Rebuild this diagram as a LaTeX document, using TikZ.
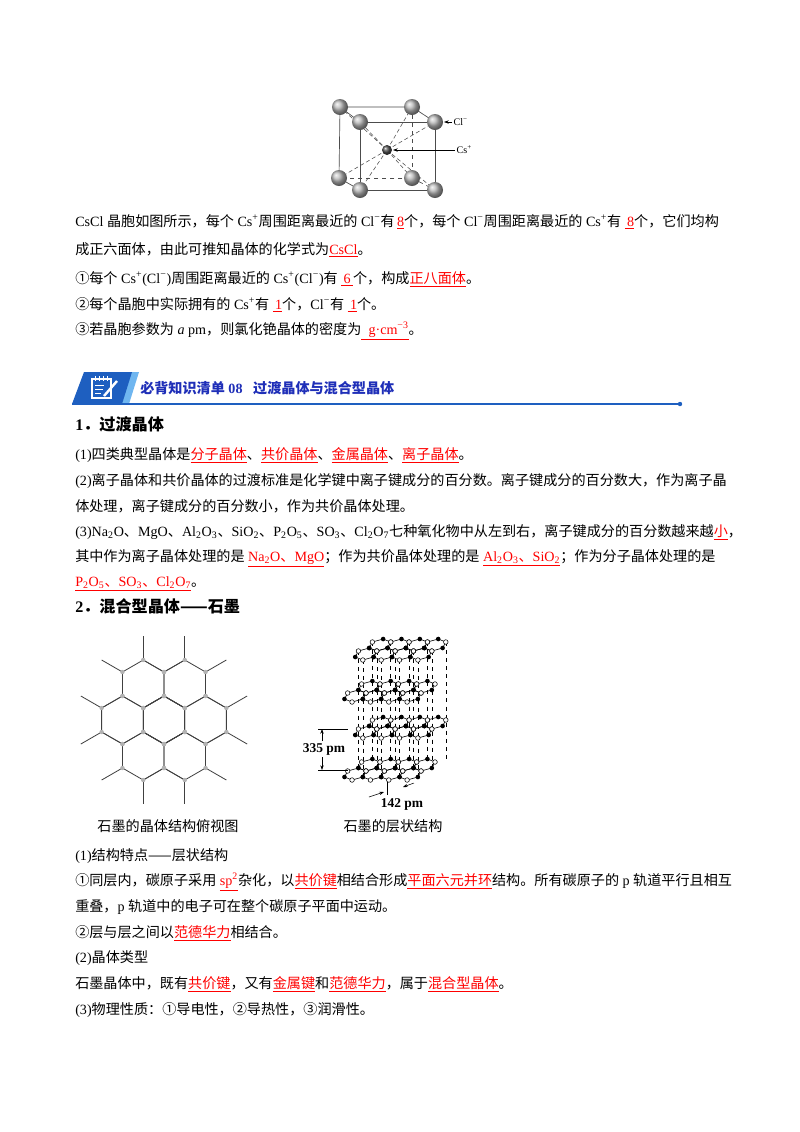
\documentclass[tikz,border=0pt]{standalone}
\usepackage{fontspec}
\setmainfont{Liberation Serif}
\newfontfamily\cjkfont{Noto Sans CJK SC}
\usetikzlibrary{arrows.meta}
\XeTeXinterchartokenstate=1
\newXeTeXintercharclass\CJKc
\newcount\cc
\def\setrange#1#2{\cc=#1\relax\loop\XeTeXcharclass\cc=\CJKc\ifnum\cc<#2\advance\cc by 1\repeat}
\setrange{"4E00}{"9FFF}
\setrange{"3000}{"303F}
\setrange{"FF00}{"FFEF}
\setrange{"2460}{"2473}
\XeTeXcharclass"2014=\CJKc
\XeTeXinterchartoks 0 \CJKc = {\cjkfont}
\XeTeXinterchartoks 4095 \CJKc = {\cjkfont}
\XeTeXinterchartoks \CJKc 0 = {\rmfamily}
\XeTeXinterchartoks \CJKc 4095 = {\rmfamily}
\newcommand\ru[1]{\textcolor{red}{\underline{#1}}}
\definecolor{hblue}{HTML}{1E5FC0}
\definecolor{lblue}{HTML}{6FB6F0}
\definecolor{tblue}{HTML}{1F2FB8}
\begin{document}
\begin{tikzpicture}[x=0.744pt,y=-0.744pt,
  txt/.style={anchor=base west,inner sep=0,font=\fontsize{10.5pt}{12pt}\selectfont},
  hd/.style={txt,font=\fontsize{12pt}{13pt}\selectfont\bfseries},
  hexl/.style={draw=black!75,line width=0.6pt},
  gbond/.style={line width=0.45pt},
  cube/.style={line width=0.5pt,black!70},
  arr/.style={-{Stealth[length=3.5pt,width=2.5pt]},line width=0.4pt}]
\useasboundingbox[fill=white] (0,0) rectangle (800,1132);
% ---------- CsCl cell ----------
\coordinate (f1) at (360,122); \coordinate (f2) at (435,122);
\coordinate (f3) at (435,190); \coordinate (f4) at (360,190);
\coordinate (b1) at (340,107); \coordinate (b2) at (412,107);
\coordinate (b3) at (412,178); \coordinate (b4) at (339,178);
\coordinate (cc) at (387,150);
\draw[cube] (b4)--(b1)--(b2); \draw[cube,dashed] (b2)--(b3)--(b4);
\draw[cube] (f1)--(f2)--(f3)--(f4)--cycle;
\draw[cube] (b1)--(f1) (b2)--(f2) (b4)--(f4); \draw[cube,dashed] (b3)--(f3);
\foreach \p in {f1,f2,f3,f4,b1,b2,b3,b4} \draw[cube,densely dashed,line width=0.4pt] (cc)--(\p);
\foreach \p in {b1,b2,b3,b4,f1,f2,f3,f4} \shade[ball color=gray!55] (\p) circle (8);
\shade[ball color=black!70] (cc) circle (5);
\node[inner sep=1pt,anchor=west,font=\fontsize{7.5pt}{8pt}\selectfont] (cl) at (452,122) {Cl\textsuperscript{−}};
\node[inner sep=1pt,anchor=west,font=\fontsize{7.5pt}{8pt}\selectfont] (cs) at (455,150) {Cs\textsuperscript{+}};
\draw[arr] (cl.west) -- (444,122);
\draw[arr] (cs.west) -- (393,150);
% ---------- texts top ----------
\node[txt] (t1) at (75,226) {CsCl 晶胞如图所示，每个 Cs\textsuperscript{+}周围距离最近的 Cl\textsuperscript{−}有\,\ru{8}个，每个 Cl\textsuperscript{−}周围距离最近的 Cs\textsuperscript{+}有 \ru{\,8}个，它们均构};
\node[txt] (t2) at (75,254) {成正六面体，由此可推知晶体的化学式为\ru{CsCl}。};
\node[txt] (t3) at (75,283) {①每个 Cs\textsuperscript{+}(Cl\textsuperscript{−})周围距离最近的 Cs\textsuperscript{+}(Cl\textsuperscript{−})有 \ru{\,6\,}个，构成\ru{正八面体}。};
\node[txt] (t4) at (75,309) {②每个晶胞中实际拥有的 Cs\textsuperscript{+}有 \ru{\,1}个，Cl\textsuperscript{−}有 \ru{\,1}个。};
\node[txt] (t5) at (75,334) {③若晶胞参数为 \textit{a} pm，则氯化铯晶体的密度为\ru{\ \ g·cm\textsuperscript{−3}}。};
% ---------- heading bar ----------
\fill[lblue] (112,372) -- (139,372) -- (129,404) -- (102,404) -- cycle;
\fill[hblue] (84,372) -- (132,372) -- (122,404) -- (72,404) -- cycle;
\draw[white,line width=1pt] (92,379) rectangle (111,398);
\draw[white,line width=0.7pt] (95,385)--(104,385) (95,389)--(103,389) (95,393)--(101,393);
\draw[white,line width=0.6pt] (95,376)--(95,381) (99,376)--(99,381) (103,376)--(103,381) (107,376)--(107,381);
\draw[white,line width=1.8pt] (104,396)--(117,381);
\node[txt,anchor=base west,font=\fontsize{10.5pt}{12pt}\selectfont\bfseries,text=tblue] (head) at (140,393) {必背知识清单 08\ \ \ 过渡晶体与混合型晶体};
\coordinate (hl0) at (72,404); \coordinate (hl1) at (680,404);
\draw[hblue,line width=0.9pt] (hl0)--(hl1);
\fill[hblue] (hl1) circle (2.2);
% ---------- section 1 ----------
\node[hd] (s1) at (75,430) {1．过渡晶体};
\node[txt] (a1) at (75,459) {(1)四类典型晶体是\ru{分子晶体}、\ru{共价晶体}、\ru{金属晶体}、\ru{离子晶体}。};
\node[txt] (a2) at (75,485) {(2)离子晶体和共价晶体的过渡标准是化学键中离子键成分的百分数。离子键成分的百分数大，作为离子晶};
\node[txt] (a3) at (75,511) {体处理，离子键成分的百分数小，作为共价晶体处理。};
\node[txt] (a4) at (75,536) {(3)Na\textsubscript{2}O、MgO、Al\textsubscript{2}O\textsubscript{3}、SiO\textsubscript{2}、P\textsubscript{2}O\textsubscript{5}、SO\textsubscript{3}、Cl\textsubscript{2}O\textsubscript{7}七种氧化物中从左到右，离子键成分的百分数越来越\ru{小}，};
\node[txt] (a5) at (75,561) {其中作为离子晶体处理的是 \ru{Na\textsubscript{2}O、MgO}；作为共价晶体处理的是 \ru{Al\textsubscript{2}O\textsubscript{3}、SiO\textsubscript{2}}；作为分子晶体处理的是};
\node[txt] (a6) at (75,586) {\ru{P\textsubscript{2}O\textsubscript{5}、SO\textsubscript{3}、Cl\textsubscript{2}O\textsubscript{7}}。};
\node[hd] (s2) at (75,612) {2．混合型晶体——石墨};
% ---------- honeycomb ----------
\foreach \cx/\cy in {164/720,205.57/720,122.43/720,184.78/684,143.22/684,184.78/756,143.22/756}{
  \draw[hexl] ({\cx+20.78},{\cy-12}) -- (\cx,{\cy-24}) -- ({\cx-20.78},{\cy-12}) -- ({\cx-20.78},{\cy+12}) -- (\cx,{\cy+24}) -- ({\cx+20.78},{\cy+12}) -- cycle;}
\foreach \cx/\cy in {205.57/720,122.43/720,184.78/684,143.22/684,184.78/756,143.22/756}{
  \foreach \t in {30,90,...,330}
    \draw[hexl] ({\cx+24*cos(\t)},{\cy+24*sin(\t)}) -- ({\cx+48*cos(\t)},{\cy+48*sin(\t)});}
\foreach \cx/\cy in {164/720,205.57/720,122.43/720,184.78/684,143.22/684,184.78/756,143.22/756}{
  \foreach \t in {30,90,...,330}
    \fill[gray!60] ({\cx+24*cos(\t)},{\cy+24*sin(\t)}) circle (2.2);}
\node[txt,anchor=base] (cap1) at (168,831) {石墨的晶体结构俯视图};
% ---------- layered graphite ----------
\def\GX{366}\def\SX{10.6}\def\SY{6}
\foreach \L in {0,1,2,3}{
  \pgfmathsetmacro\yo{654+39*\L}
  \pgfmathsetmacro\sx{-0.866*mod(\L,2)}
  \pgfmathsetmacro\sy{-0.5*mod(\L,2)}
  \foreach \i in {0,...,3}{
    \foreach \j in {0,1}{
      \pgfmathsetmacro\hx{\i*1.732+mod(\j,2)*0.866+\sx}
      \pgfmathsetmacro\hy{\j*1.5+\sy}
      \ifnum\L=0
        \foreach \k in {0,2,4}
          \draw[dashed,line width=0.35pt] ({\GX+\SX*(\hx+cos(30+60*\k)+0.3*(\hy+sin(30+60*\k)))},{\yo-\SY*(\hy+sin(30+60*\k))}) -- ++(0,117);
      \fi
    }}}
\foreach \L in {0,1,2,3}{
  \pgfmathsetmacro\yo{654+39*\L}
  \pgfmathsetmacro\sx{-0.866*mod(\L,2)}
  \pgfmathsetmacro\sy{-0.5*mod(\L,2)}
  \foreach \i in {0,...,3}{
    \foreach \j in {0,1}{
      \pgfmathsetmacro\hx{\i*1.732+mod(\j,2)*0.866+\sx}
      \pgfmathsetmacro\hy{\j*1.5+\sy}
      \foreach \k in {0,...,5}
        \draw[gbond] ({\GX+\SX*(\hx+cos(30+60*\k)+0.3*(\hy+sin(30+60*\k)))},{\yo-\SY*(\hy+sin(30+60*\k))}) -- ({\GX+\SX*(\hx+cos(90+60*\k)+0.3*(\hy+sin(90+60*\k)))},{\yo-\SY*(\hy+sin(90+60*\k))});
    }}
  \foreach \i in {0,...,3}{
    \foreach \j in {0,1}{
      \pgfmathsetmacro\hx{\i*1.732+mod(\j,2)*0.866+\sx}
      \pgfmathsetmacro\hy{\j*1.5+\sy}
      \foreach \k in {0,2,4}
        \filldraw[fill=white,draw=black,line width=0.4pt] ({\GX+\SX*(\hx+cos(30+60*\k)+0.3*(\hy+sin(30+60*\k)))},{\yo-\SY*(\hy+sin(30+60*\k))}) circle (2.3);
      \foreach \k in {1,3,5}
        \fill[black] ({\GX+\SX*(\hx+cos(30+60*\k)+0.3*(\hy+sin(30+60*\k)))},{\yo-\SY*(\hy+sin(30+60*\k))}) circle (2.3);
    }}}
\coordinate (m1a) at (318,729); \coordinate (m1b) at (348,729);
\coordinate (m2a) at (318,770); \coordinate (m2b) at (348,770);
\draw[line width=0.5pt] (m1a)--(m1b) (m2a)--(m2b);
\node[font=\fontsize{10pt}{11pt}\selectfont\bfseries,inner sep=1pt] (d335) at (324,749) {335 pm};
\coordinate (v1) at (322,729); \coordinate (v2) at (322,770);
\draw[arr] (322,741) -- (v1);
\draw[arr] (322,757) -- (v2);
\node[font=\fontsize{10pt}{11pt}\selectfont\bfseries,inner sep=1pt] (d142) at (402,804) {142 pm};
\draw[arr] (369,797) -- (384,792);
\draw[arr] (414,783) -- (403,787);
\draw[line width=0.4pt] (387,782) -- (387,795);
\node[txt,anchor=base] (cap2) at (393,831) {石墨的层状结构};
% ---------- lower texts ----------
\node[txt] (c1) at (75,860) {(1)结构特点——层状结构};
\node[txt] (c2) at (75,885) {①同层内，碳原子采用 \ru{sp\textsuperscript{2}}杂化，以\ru{共价键}相结合形成\ru{平面六元并环}结构。所有碳原子的 p 轨道平行且相互};
\node[txt] (c3) at (75,911) {重叠，p 轨道中的电子可在整个碳原子平面中运动。};
\node[txt] (c4) at (75,937) {②层与层之间以\ru{范德华力}相结合。};
\node[txt] (c5) at (75,962) {(2)晶体类型};
\node[txt] (c6) at (75,988) {石墨晶体中，既有\ru{共价键}，又有\ru{金属键}和\ru{范德华力}，属于\ru{混合型晶体}。};
\node[txt] (c7) at (75,1014) {(3)物理性质：①导电性，②导热性，③润滑性。};
\end{tikzpicture}
\end{document}
